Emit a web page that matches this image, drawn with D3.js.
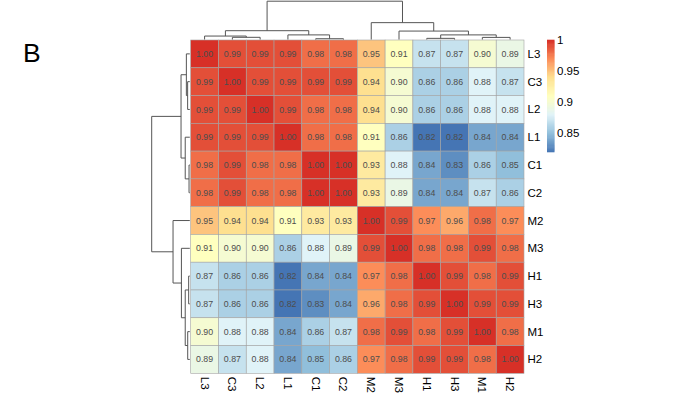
<!DOCTYPE html>
<html><head><meta charset="utf-8">
<script src="https://cdn.jsdelivr.net/npm/d3@7"></script>
<style>body{margin:0;background:#fff;}svg{display:block;font-family:"Liberation Sans",Arial,sans-serif;}</style>
</head><body>
<svg id="chart" width="683" height="396"></svg>
<script>
const labels = ["L3","C3","L2","L1","C1","C2","M2","M3","H1","H3","M1","H2"];
const values = [
 [1.00,0.99,0.99,0.99,0.98,0.98,0.95,0.91,0.87,0.87,0.90,0.89],
 [0.99,1.00,0.99,0.99,0.99,0.99,0.94,0.90,0.86,0.86,0.88,0.87],
 [0.99,0.99,1.00,0.99,0.98,0.98,0.94,0.90,0.86,0.86,0.88,0.88],
 [0.99,0.99,0.99,1.00,0.98,0.98,0.91,0.86,0.82,0.82,0.84,0.84],
 [0.98,0.99,0.98,0.98,1.00,1.00,0.93,0.88,0.84,0.83,0.86,0.85],
 [0.98,0.99,0.98,0.98,1.00,1.00,0.93,0.89,0.84,0.84,0.87,0.86],
 [0.95,0.94,0.94,0.91,0.93,0.93,1.00,0.99,0.97,0.96,0.98,0.97],
 [0.91,0.90,0.90,0.86,0.88,0.89,0.99,1.00,0.98,0.98,0.99,0.98],
 [0.87,0.86,0.86,0.82,0.84,0.84,0.97,0.98,1.00,0.99,0.98,0.99],
 [0.87,0.86,0.86,0.82,0.83,0.84,0.96,0.98,0.99,1.00,0.99,0.99],
 [0.90,0.88,0.88,0.84,0.86,0.87,0.98,0.99,0.98,0.99,1.00,0.98],
 [0.89,0.87,0.88,0.84,0.85,0.86,0.97,0.98,0.99,0.99,0.98,1.00]
];
// hclust-style merges: negative = leaf (1-based index in labels), positive = earlier merge
const merges = [[-5,-6],[-9,-10],[-11,-12],[-2,-3],[-1,4],[-4,1],[2,3],[-8,7],[5,6],[-7,8],[9,10]];
const mergeHeights = [0.02,0.03,0.055,0.057,0.09,0.12,0.12,0.22,0.23,0.44,1.0];
const legendTicks = [0.85,0.9,0.95,1];
const palette = ["#4575B4","#91BFDB","#E0F3F8","#FFFFBF","#FEE090","#FC8D59","#D73027"];

const svg = d3.select("#chart");
const hmLeft = 190.7, hmTop = 40, hmSize = 333.3;
const x = d3.scaleBand().domain(labels).range([hmLeft, hmLeft + hmSize]);
const y = d3.scaleBand().domain(labels).range([hmTop, hmTop + hmSize]);
const vmin = 0.82, vmax = 1.0;
const color = d3.scaleLinear()
  .domain(palette.map((_, i) => vmin + i * (vmax - vmin) / (palette.length - 1)))
  .range(palette).clamp(true);

// Cells
const cells = [];
values.forEach((row, i) => row.forEach((v, j) => cells.push({r: labels[i], c: labels[j], v})));
svg.append("g").selectAll("rect").data(cells).join("rect")
  .attr("x", d => x(d.c)).attr("y", d => y(d.r))
  .attr("width", x.bandwidth()).attr("height", y.bandwidth())
  .attr("fill", d => color(d.v))
  .attr("stroke", "#a3a3a3").attr("stroke-width", 0.6);
svg.append("g").selectAll("text").data(cells).join("text")
  .attr("x", d => x(d.c) + x.bandwidth() / 2)
  .attr("y", d => y(d.r) + y.bandwidth() / 2)
  .attr("dy", "0.35em").attr("text-anchor", "middle")
  .attr("font-size", 8.8).attr("fill", "#4d4d4d")
  .text(d => d.v.toFixed(2));

// Row labels
svg.append("g").selectAll("text").data(labels).join("text")
  .attr("x", hmLeft + hmSize + 3.5).attr("y", d => y(d) + y.bandwidth() / 2)
  .attr("dy", "0.35em").attr("font-size", 11.5).attr("fill", "#000").text(d => d);
// Column labels
svg.append("g").selectAll("text").data(labels).join("text")
  .attr("transform", d => `translate(${x(d) + x.bandwidth() / 2},${hmTop + hmSize + 3.5}) rotate(90)`)
  .attr("dy", "0.35em").attr("font-size", 11.5).attr("fill", "#000").text(d => d);

// Dendrograms
function buildNodes(posScale) {
  const nodes = [];
  const get = k => k < 0 ? {pos: posScale(labels[-k - 1]) + posScale.bandwidth() / 2, h: 0} : nodes[k - 1];
  merges.forEach((m, i) => {
    const a = get(m[0]), b = get(m[1]);
    nodes.push({pos: (a.pos + b.pos) / 2, h: mergeHeights[i], a, b});
  });
  return nodes;
}
const hmax = d3.max(mergeHeights);
// top
const topH = d3.scaleLinear().domain([0, hmax]).range([39.5, 1.2]);
const topNodes = buildNodes(x);
svg.append("g").selectAll("path").data(topNodes).join("path")
  .attr("d", n => `M${n.a.pos},${topH(n.a.h)}V${topH(n.h)}H${n.b.pos}V${topH(n.b.h)}`)
  .attr("fill", "none").attr("stroke", "#555").attr("stroke-width", 1);
// left
const leftH = d3.scaleLinear().domain([0, hmax]).range([189.8, 151.7]);
const leftNodes = buildNodes(y);
svg.append("g").selectAll("path").data(leftNodes).join("path")
  .attr("d", n => `M${leftH(n.a.h)},${n.a.pos}H${leftH(n.h)}V${n.b.pos}H${leftH(n.b.h)}`)
  .attr("fill", "none").attr("stroke", "#555").attr("stroke-width", 1);

// Legend
const legY = d3.scaleLinear().domain([vmin, vmax]).range([152, 40]);
const steps = d3.range(100).map(i => vmin + (i + 0.5) * (vmax - vmin) / 100);
const stepH = (legY(vmin) - legY(vmax)) / 100;
svg.append("g").selectAll("rect").data(steps).join("rect")
  .attr("x", 547).attr("width", 7.5)
  .attr("y", d => legY(d) - stepH / 2 - 0.3).attr("height", stepH + 0.6)
  .attr("fill", d => color(d));
svg.append("g").selectAll("text").data(legendTicks).join("text")
  .attr("x", 557).attr("y", d => legY(d)).attr("dy", "0.35em")
  .attr("font-size", 11.5).attr("fill", "#000").text(d => d3.format("")(d));

// Panel label
svg.append("text").attr("x", 23).attr("y", 62.3).attr("font-size", 26.5).attr("fill", "#000").text("B");
</script>
</body></html>
